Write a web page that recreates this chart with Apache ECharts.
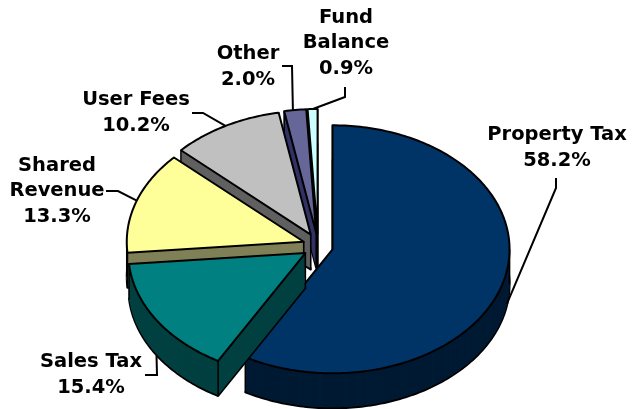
<!DOCTYPE html>
<html><head><meta charset="utf-8">
<script src="https://cdn.jsdelivr.net/npm/echarts@6/dist/echarts.min.js"></script>
<style>html,body{margin:0;padding:0;background:#fff}#c{width:636px;height:409px}</style>
</head><body><div id="c"></div>
<script>
// ---- data ----
const categories = ['Property Tax', 'Sales Tax', 'Shared Revenue', 'User Fees', 'Other', 'Fund Balance'];
const values = [58.2, 15.4, 13.3, 10.2, 2.0, 0.9];
const labelNames = ['Property Tax', 'Sales Tax', 'Shared\nRevenue', 'User Fees', 'Other', 'Fund\nBalance'];

// ---- styles ----
const topColors = ['#003366', '#008080', '#FFFF99', '#C0C0C0', '#666699', '#CCFFFF'];
const sideColors = ['#001a33', '#004040', '#808058', '#606060', '#333366', '#668080'];

// ---- layout (pixels / fractions) ----
const layout = { cx: 318, cy: 246, rx: 177, ry: 124, depth: 35, explodeX: 0.085, explodeY: 0.105 };
const labelPos = [[557, 148], [91, 375], [57, 191], [136, 113], [248, 67], [346, 43]];
const leaderBends = [
  [[556, 178], [556, 188]],
  [[145, 375], [157, 375]],
  [[106, 191], [118, 191]],
  [[192, 113], [203, 113]],
  [[282, 66], [292, 66]],
  [[345, 87], [345, 97]]
];
const leaderEnd = [[0.477, 0.95], [0.5, 1.0], [0.51, 0], [0.5, 0], [0.4, 0], [0.53, 0]];

const total = values.reduce((a, b) => a + b, 0);
const cum = [0];
values.forEach(v => cum.push(cum[cum.length - 1] + v));

function renderItem(params, api) {
  const i = params.dataIndex;
  const v = api.value(0);
  const a0 = cum[i] / total * Math.PI * 2;
  const a1 = (cum[i] + v) / total * Math.PI * 2;
  const mid = (a0 + a1) / 2;
  const { cx, cy, rx, ry, depth: D, explodeX, explodeY } = layout;
  const ox = cx + explodeX * rx * Math.sin(mid);
  const oy = cy - explodeY * ry * Math.cos(mid);
  const P = (a, dy) => [ox + rx * Math.sin(a), oy - ry * Math.cos(a) + (dy || 0)];
  const n = Math.max(4, Math.ceil((a1 - a0) / (Math.PI / 180)));
  const pts = (dy) => {
    const arr = [[ox, oy + dy]];
    for (let k = 0; k <= n; k++) arr.push(P(a0 + (a1 - a0) * k / n, dy));
    return arr;
  };
  const rank = -Math.cos(mid);
  const zb = Math.round((rank + 1) * 100);
  const children = [];
  children.push({ type: 'polygon', z2: zb * 10, shape: { points: pts(D) },
    style: { fill: sideColors[i], stroke: '#000', lineWidth: 2, lineJoin: 'round' } });
  for (let d = D - 1; d >= 0; d--) {
    children.push({ type: 'polygon', z2: zb * 10 + 1, shape: { points: pts(d) },
      style: { fill: sideColors[i], stroke: null } });
  }
  const vlines = [[ox, oy], P(a0), P(a1)];
  [Math.PI / 2, Math.PI * 1.5].forEach(a => { if (a > a0 && a < a1) vlines.push(P(a)); });
  vlines.forEach(p => children.push({ type: 'line', z2: zb * 10 + 2,
    shape: { x1: p[0], y1: p[1], x2: p[0], y2: p[1] + D },
    style: { stroke: '#000', lineWidth: 1.6 } }));
  children.push({ type: 'polygon', z2: zb * 10 + 3, shape: { points: pts(0) },
    style: { fill: topColors[i], stroke: '#000', lineWidth: 2, lineJoin: 'round' } });
  // label + leader
  const le = leaderEnd[i];
  const endPt = P(a0 + (a1 - a0) * le[0], D * le[1]);
  children.push({ type: 'polyline', z2: 5000, shape: { points: leaderBends[i].concat([endPt]) },
    style: { stroke: '#000', lineWidth: 2, fill: null } });
  children.push({ type: 'text', z2: 5001, style: {
    text: labelNames[i] + '\n' + v.toFixed(1) + '%',
    x: labelPos[i][0], y: labelPos[i][1], align: 'center', verticalAlign: 'middle',
    fontFamily: 'DejaVu Sans', fontWeight: 'bold', fontSize: 19.5, lineHeight: 25.5, fill: '#000' } });
  return { type: 'group', children };
}

const chart = echarts.init(document.getElementById('c'), null, { renderer: 'canvas' });
chart.setOption({
  animation: false,
  backgroundColor: '#fff',
  series: [{
    type: 'custom',
    coordinateSystem: 'none',
    silent: true,
    renderItem: renderItem,
    data: values.map((v, i) => ({ name: categories[i], value: [v] }))
  }]
});
</script></body></html>
